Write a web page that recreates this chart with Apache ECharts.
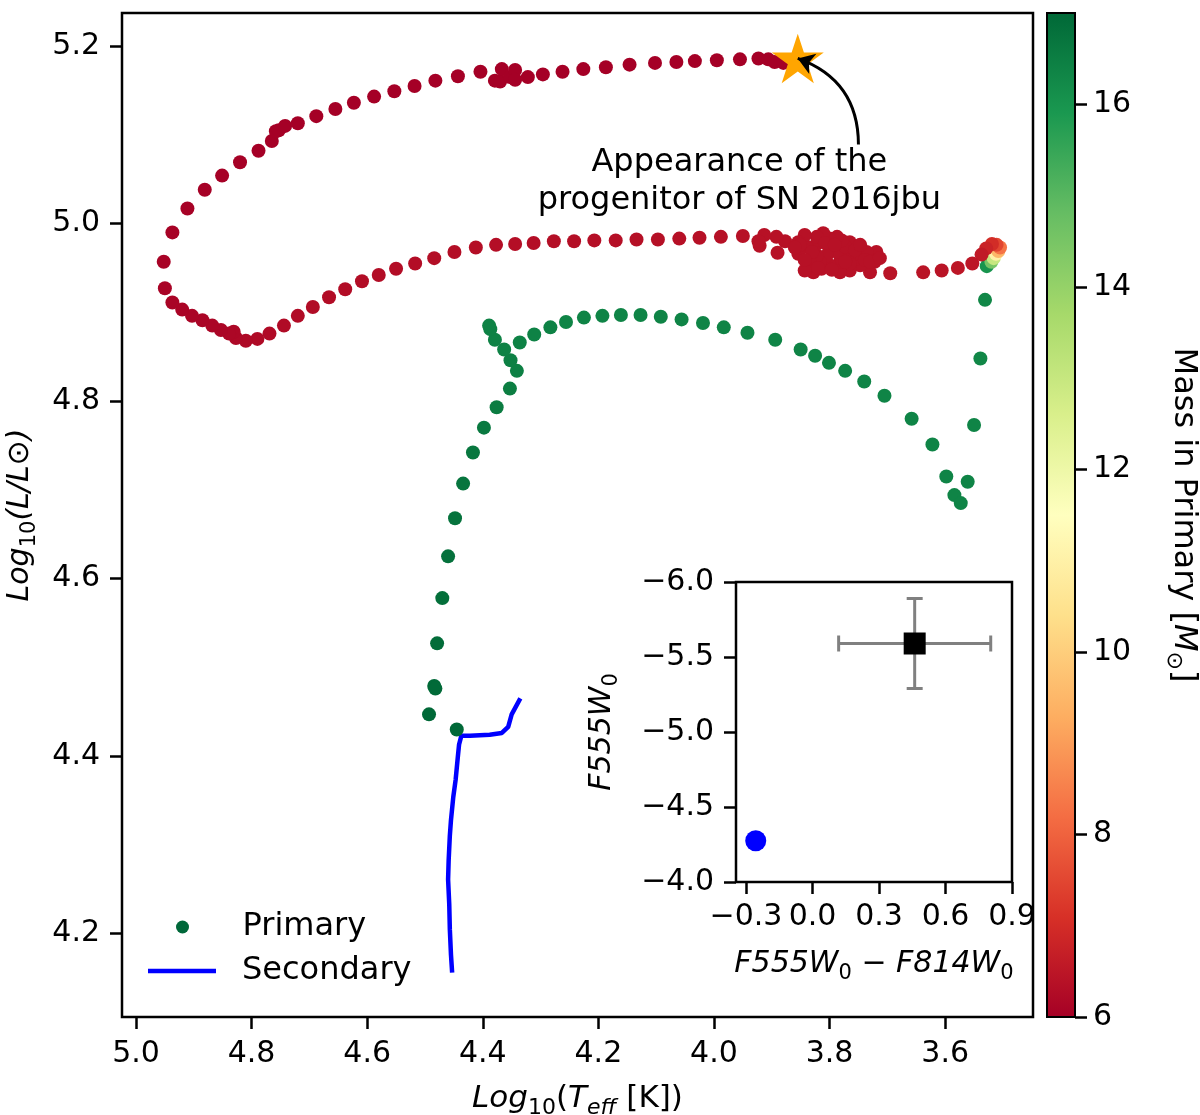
<!DOCTYPE html>
<html>
<head>
<meta charset="utf-8">
<script src="https://cdn.jsdelivr.net/npm/echarts@6.0.0/dist/echarts.min.js"></script>
<style>
  html, body { margin: 0; padding: 0; background: #fff; }
  #main { width: 1200px; height: 1115px; }
</style>
</head>
<body>
<div id="main"></div>
<script>
// primary track (log Teff, log L, mass in primary), in time order
const primaryTeff = [
  4.445, 4.493, 4.484, 4.482, 4.479, 4.470, 4.460, 4.448, 4.434, 4.417, 4.398, 4.376, 4.353, 4.341,
  4.352, 4.363, 4.379, 4.387, 4.389, 4.336, 4.311, 4.283, 4.256, 4.225, 4.193, 4.161, 4.127, 4.092,
  4.056, 4.019, 3.983, 3.942, 3.894, 3.850, 3.825, 3.801, 3.773, 3.740, 3.705, 3.658, 3.622, 3.598,
  3.584, 3.573, 3.561, 3.550, 3.539, 3.531,
  3.528, 3.520, 3.516, 3.512, 3.508, 3.505, 3.511, 3.519, 3.529, 3.537, 3.553, 3.578, 3.606, 3.638, 3.695,
  3.722, 3.719, 3.736, 3.730, 3.747, 3.754, 3.754, 3.765, 3.765, 3.765, 3.770, 3.782, 3.782, 3.787,
  3.800, 3.800, 3.805, 3.814, 3.817, 3.822, 3.828, 3.834, 3.843, 3.825, 3.773, 3.779, 3.787, 3.800,
  3.811, 3.822, 3.840, 3.843, 3.854, 3.854, 3.877, 3.890, 3.892, 3.913, 3.921, 3.923,
  3.851, 3.830, 3.808, 3.791, 3.773, 3.756, 3.739, 3.796, 3.820, 3.747, 3.843, 3.730, 3.713, 3.860,
  3.950, 3.988, 4.025, 4.060, 4.097, 4.134, 4.170, 4.207, 4.242, 4.277, 4.312, 4.344, 4.377, 4.412,
  4.449, 4.484, 4.517, 4.550, 4.580, 4.609, 4.638, 4.666, 4.694, 4.720, 4.744, 4.769, 4.790, 4.810,
  4.827, 4.831, 4.839, 4.853, 4.868, 4.885, 4.903, 4.920, 4.937, 4.950, 4.952, 4.937,
  4.911, 4.881, 4.851, 4.820, 4.788, 4.765, 4.758, 4.753, 4.742, 4.720, 4.688, 4.655, 4.623, 4.588,
  4.553, 4.518, 4.482, 4.443, 4.404, 4.379, 4.370, 4.367, 4.353, 4.344, 4.344, 4.322, 4.296, 4.262,
  4.226, 4.187, 4.146, 4.102, 4.065, 4.033, 3.995, 3.955, 3.923, 3.906, 3.895, 3.880
];
const primaryLum = [
  4.430, 4.447, 4.479, 4.476, 4.527, 4.578, 4.625, 4.668, 4.707, 4.742, 4.770, 4.793, 4.814, 4.834,
  4.846, 4.858, 4.869, 4.881, 4.885, 4.866, 4.875, 4.883, 4.889, 4.894, 4.896, 4.897, 4.897, 4.895,
  4.892, 4.888, 4.883, 4.877, 4.869, 4.858, 4.851, 4.843, 4.834, 4.822, 4.806, 4.780, 4.751, 4.715,
  4.694, 4.685, 4.709, 4.773, 4.848, 4.914,
  4.952, 4.957, 4.961, 4.966, 4.969, 4.973, 4.976, 4.977, 4.972, 4.965, 4.955, 4.950, 4.947, 4.945, 4.944,
  4.957, 4.968, 4.968, 4.945, 4.953, 4.960, 4.974, 4.947, 4.955, 4.979, 4.964, 4.945, 4.957, 4.968,
  4.953, 4.973, 4.964, 4.949, 4.957, 4.964, 4.945, 4.957, 4.947, 4.975, 4.974, 4.981, 4.985, 4.983,
  4.989, 4.985, 4.974, 4.987, 4.979, 4.966, 4.980, 4.967, 4.985, 4.987, 4.975, 4.980,
  4.976, 4.968, 4.978, 4.976, 4.957, 4.970, 4.959, 4.948, 4.950, 4.976, 4.959, 4.957, 4.961, 4.973,
  4.986, 4.985, 4.984, 4.983, 4.982, 4.982, 4.981, 4.981, 4.980, 4.980, 4.978, 4.977, 4.976, 4.973,
  4.968, 4.961, 4.955, 4.949, 4.942, 4.935, 4.926, 4.917, 4.906, 4.896, 4.885, 4.876, 4.870, 4.868,
  4.871, 4.878, 4.876, 4.880, 4.885, 4.891, 4.896, 4.903, 4.911, 4.927, 4.957, 4.990,
  5.017, 5.038, 5.054, 5.069, 5.082, 5.093, 5.104, 5.105, 5.110, 5.113, 5.121, 5.129, 5.136, 5.143,
  5.149, 5.155, 5.161, 5.166, 5.171, 5.161, 5.160, 5.174, 5.165, 5.173, 5.162, 5.165, 5.168, 5.171,
  5.174, 5.176, 5.179, 5.181, 5.182, 5.183, 5.184, 5.185, 5.186, 5.185, 5.182, 5.181
];
const primaryMass = [
  17.0, 17.0, 16.95, 16.95, 16.9, 16.85, 16.8, 16.75, 16.7, 16.65, 16.6, 16.55, 16.5, 16.45,
  16.45, 16.4, 16.4, 16.4, 16.4, 16.4, 16.4, 16.4, 16.35, 16.35, 16.35, 16.35, 16.35, 16.35,
  16.35, 16.35, 16.35, 16.35, 16.35, 16.35, 16.35, 16.35, 16.35, 16.35, 16.35, 16.35, 16.35, 16.35,
  16.35, 16.35, 16.35, 16.35, 16.3, 16.3,
  16.0, 14.5, 13.0, 11.0, 9.5, 8.3, 7.5, 7.0, 6.8, 6.6, 6.5, 6.5, 6.45, 6.45, 6.45,
  6.4, 6.4, 6.4, 6.4, 6.4, 6.4, 6.4, 6.4, 6.4, 6.4, 6.4, 6.4, 6.4, 6.4,
  6.4, 6.4, 6.4, 6.4, 6.4, 6.4, 6.4, 6.4, 6.4, 6.4, 6.4, 6.4, 6.4, 6.4,
  6.4, 6.4, 6.4, 6.4, 6.4, 6.4, 6.4, 6.4, 6.4, 6.4, 6.4, 6.4,
  6.4, 6.4, 6.4, 6.4, 6.4, 6.4, 6.4, 6.4, 6.4, 6.4, 6.4, 6.4, 6.4, 6.4,
  6.38, 6.38, 6.37, 6.37, 6.36, 6.36, 6.35, 6.35, 6.34, 6.34, 6.33, 6.33, 6.32, 6.32,
  6.31, 6.31, 6.3, 6.3, 6.29, 6.29, 6.28, 6.28, 6.27, 6.26, 6.25, 6.24, 6.22, 6.2,
  6.18, 6.16, 6.15, 6.14, 6.13, 6.12, 6.11, 6.1, 6.09, 6.08, 6.06, 6.05,
  6.04, 6.03, 6.02, 6.02, 6.01, 6.01, 6.0, 6.0, 6.0, 6.0, 6.0, 6.0, 6.0, 6.0,
  6.0, 6.0, 6.0, 6.0, 6.0, 6.0, 6.0, 6.0, 6.0, 6.0, 6.0, 6.0, 6.0, 6.0,
  6.0, 6.0, 6.0, 6.0, 6.0, 6.0, 6.0, 6.0, 6.0, 6.0, 6.0, 6.0
];
// secondary track
const secondaryTeff = [4.453, 4.455, 4.457, 4.458, 4.460, 4.459, 4.457, 4.455, 4.451, 4.447, 4.443, 4.441, 4.437, 4.422, 4.388, 4.367, 4.356, 4.350, 4.335];
const secondaryLum  = [4.156, 4.176, 4.205, 4.233, 4.261, 4.283, 4.310, 4.328, 4.354, 4.373, 4.400, 4.413, 4.423, 4.423, 4.424, 4.426, 4.433, 4.447, 4.465];
// progenitor of SN 2016jbu and its note
const progenitor = [3.855, 5.186];
const arrowFrom = [3.750, 5.089];
const noteAt = [3.956, 5.047];

const xTicks = [5.0, 4.8, 4.6, 4.4, 4.2, 4.0, 3.8, 3.6];
const yTicks = [4.2, 4.4, 4.6, 4.8, 5.0, 5.2];
const massTicks = [6, 8, 10, 12, 14, 16];

// inset: observed colour / magnitude vs model secondary
const obsColour = [0.461];
const obsMag = [-5.59];
const obsColourErr = [0.343];
const obsMagErr = [0.30];
const secColour = [-0.256];
const secMag = [-4.275];
const insetXTicks = [-0.3, 0.0, 0.3, 0.6, 0.9];
const insetYTicks = [-6.0, -5.5, -5.0, -4.5, -4.0];

const RdYlGn = ['#a50026', '#d73027', '#f46d43', '#fdae61', '#fee08b', '#ffffbf',
  '#d9ef8b', '#a6d96a', '#66bd63', '#1a9850', '#006837'];

const FONT = 'DejaVu Sans';
const FS = 30;
function richFor(size) {
  var sub = Math.round(size * 0.7);
  return {
    n: { fontFamily: FONT, fontSize: size, color: '#000', lineHeight: 40 },
    i: { fontFamily: FONT, fontSize: size, color: '#000', fontStyle: 'italic', lineHeight: 40 },
    s: { fontFamily: FONT, fontSize: sub, color: '#000', lineHeight: sub, verticalAlign: 'bottom' },
    si: { fontFamily: FONT, fontSize: sub, color: '#000', fontStyle: 'italic', lineHeight: sub, verticalAlign: 'bottom' }
  };
}
const starPath = 'path://M50,0 L61.23,34.55 L97.55,34.55 L68.17,55.9 L79.39,90.45 L50,69.1 L20.61,90.45 L31.83,55.9 L2.45,34.55 L38.77,34.55 Z';

function fmt1(v) {
  var s = Math.abs(v).toFixed(1);
  return v < -1e-9 ? '\u2212' + s : s;
}
function zip() {
  var cols = arguments, out = [];
  for (var k = 0; k < cols[0].length; k++) {
    var row = [];
    for (var c = 0; c < cols.length; c++) row.push(cols[c][k]);
    out.push(row);
  }
  return out;
}
function legendText() {
  return {
    color: '#000', fontFamily: FONT, fontSize: 32,
    rich: {
      sp: { width: 21, fontSize: 32 },
      t: { color: '#000', fontFamily: FONT, fontSize: 32 }
    }
  };
}
function legendLabel(n) { return '{sp|}{t|' + n + '}'; }

var tickStyle = { show: true, inside: false, length: 12, lineStyle: { color: '#000', width: 2.5 } };
var labelStyle = { color: '#000', fontFamily: FONT, fontSize: FS, hideOverlap: false };
var noLine = { show: false, onZero: false };

const chart = echarts.init(document.getElementById('main'));

var option = {
  backgroundColor: '#fff',
  animation: false,
  grid: [
    { left: 122, top: 13, width: 911, height: 1004, show: true, borderColor: '#000', borderWidth: 2.5, backgroundColor: 'transparent', outerBoundsMode: 'none' },
    { left: 1047, top: 13, width: 28, height: 1004, show: false, outerBoundsMode: 'none' },
    { left: 736, top: 582, width: 276, height: 300, show: true, borderColor: '#000', borderWidth: 2.5, backgroundColor: '#fff', outerBoundsMode: 'none' }
  ],
  xAxis: [
    {
      gridIndex: 0, type: 'value', inverse: true, min: 3.448, max: 5.0242,
      axisLine: noLine, splitLine: { show: false },
      axisTick: Object.assign({ customValues: xTicks }, tickStyle),
      axisLabel: Object.assign({ customValues: xTicks, margin: 22, formatter: fmt1 }, labelStyle),
      name: '{i|Log}{s|10}{n|(}{i|T}{si|eff}{n| [K])}',
      nameLocation: 'middle', nameGap: 62,
      nameTextStyle: { rich: richFor(31) }
    },
    { gridIndex: 1, type: 'value', min: 0, max: 1, show: false },
    {
      gridIndex: 2, type: 'value', min: -0.345, max: 0.9,
      axisLine: noLine, splitLine: { show: false },
      axisTick: Object.assign({ customValues: insetXTicks }, tickStyle),
      axisLabel: Object.assign({ customValues: insetXTicks, margin: 20, formatter: fmt1 }, labelStyle),
      name: '{i|F555W}{s|0}{n| \u2212 }{i|F814W}{s|0}',
      nameLocation: 'middle', nameGap: 62,
      nameTextStyle: { rich: richFor(30) }
    }
  ],
  yAxis: [
    {
      gridIndex: 0, type: 'value', min: 4.106, max: 5.2372,
      axisLine: noLine, splitLine: { show: false },
      axisTick: Object.assign({ customValues: yTicks }, tickStyle),
      axisLabel: Object.assign({ customValues: yTicks, margin: 22, formatter: fmt1 }, labelStyle),
      name: '{i|Log}{s|10}{i|(L/L}{n|\u2299}{i|)}',
      nameLocation: 'middle', nameGap: 82, nameRotate: 90,
      nameTextStyle: { rich: richFor(30) }
    },
    {
      gridIndex: 1, type: 'value', position: 'right', min: 6, max: 17,
      axisLine: noLine, splitLine: { show: false },
      axisTick: Object.assign({ customValues: massTicks }, tickStyle),
      axisLabel: Object.assign({ customValues: massTicks, margin: 18 }, labelStyle),
      name: '{n|Mass in Primary [}{i|M}{s|\u2299}{n|]}',
      nameLocation: 'middle', nameGap: 88, nameRotate: -90,
      nameTextStyle: { rich: richFor(32) }
    },
    {
      gridIndex: 2, type: 'value', inverse: true, min: -6, max: -4,
      axisLine: noLine, splitLine: { show: false },
      axisTick: Object.assign({ customValues: insetYTicks }, tickStyle),
      axisLabel: Object.assign({ customValues: insetYTicks, margin: 22, formatter: fmt1 }, labelStyle),
      name: '{i|F555W}{s|0}',
      nameLocation: 'middle', nameGap: 114, nameRotate: 90,
      nameTextStyle: { rich: richFor(30) }
    }
  ],
  visualMap: {
    type: 'continuous', show: false, min: 6, max: 17, dimension: 2, seriesIndex: 0,
    inRange: { color: RdYlGn }
  },
  legend: [
    {
      data: [{ name: 'Primary', icon: 'circle', itemStyle: { color: '#00683a', opacity: 1 } }],
      left: 176, top: 911, padding: 0, itemWidth: 68, itemHeight: 13,
      selectedMode: false, formatter: legendLabel,
      textStyle: legendText()
    },
    {
      data: [{ name: 'Secondary', icon: 'rect', itemStyle: { color: '#0000ff', opacity: 1 } }],
      left: 148, top: 955, padding: 0, itemWidth: 68, itemHeight: 4.5,
      selectedMode: false, formatter: legendLabel,
      textStyle: legendText()
    }
  ],
  series: [
    {
      name: 'Primary', type: 'scatter', xAxisIndex: 0, yAxisIndex: 0,
      symbolSize: 14, data: zip(primaryTeff, primaryLum, primaryMass),
      itemStyle: { opacity: 1 }, z: 3
    },
    {
      name: 'Secondary', type: 'line', xAxisIndex: 0, yAxisIndex: 0,
      data: zip(secondaryTeff, secondaryLum), showSymbol: false, smooth: false,
      lineStyle: { color: '#0000ff', width: 4.5 }, itemStyle: { color: '#0000ff' }, z: 3
    },
    {
      name: 'progenitor', type: 'scatter', xAxisIndex: 0, yAxisIndex: 0,
      symbol: starPath, symbolSize: 52, symbolKeepAspect: true,
      itemStyle: { color: '#ffa500', opacity: 1 }, data: [progenitor], z: 5
    },
    {
      name: 'arrow', type: 'lines', coordinateSystem: 'cartesian2d', xAxisIndex: 0, yAxisIndex: 0,
      symbol: ['none', 'arrow'], symbolSize: 16,
      lineStyle: { color: '#000', width: 3, curveness: -0.35, opacity: 1 },
      data: [{ coords: [arrowFrom, progenitor] }], z: 6, silent: true
    },
    {
      name: 'note', type: 'scatter', xAxisIndex: 0, yAxisIndex: 0,
      symbolSize: 0, data: [noteAt], silent: true, itemStyle: { opacity: 1 },
      label: {
        show: true, position: [0, 0], align: 'center', verticalAlign: 'middle',
        formatter: 'Appearance of the\nprogenitor of SN 2016jbu',
        color: '#000', fontFamily: FONT, fontSize: 32, lineHeight: 38
      }
    },
    {
      name: 'colorbar', type: 'custom', xAxisIndex: 1, yAxisIndex: 1,
      data: [[0, 6, 17]], silent: true,
      renderItem: function (params, api) {
        var lo = api.coord([0, api.value(1)]);
        var hi = api.coord([1, api.value(2)]);
        return {
          type: 'rect',
          shape: { x: lo[0], y: hi[1], width: hi[0] - lo[0], height: lo[1] - hi[1] },
          style: {
            fill: {
              type: 'linear', x: 0, y: 1, x2: 0, y2: 0,
              colorStops: RdYlGn.map(function (c, i) { return { offset: i / 10, color: c }; })
            },
            stroke: '#000', lineWidth: 2
          }
        };
      }
    },
    {
      name: 'obs errors', type: 'custom', xAxisIndex: 2, yAxisIndex: 2,
      data: zip(obsColour, obsMag, obsColourErr, obsMagErr), silent: true, z: 3,
      renderItem: function (params, api) {
        var x = api.value(0), y = api.value(1), ex = api.value(2), ey = api.value(3);
        var l = api.coord([x - ex, y]), r = api.coord([x + ex, y]);
        var t = api.coord([x, y - ey]), b = api.coord([x, y + ey]);
        var cap = 8, st = { stroke: '#808080', lineWidth: 3 };
        return {
          type: 'group',
          children: [
            { type: 'line', shape: { x1: l[0], y1: l[1], x2: r[0], y2: r[1] }, style: st },
            { type: 'line', shape: { x1: t[0], y1: t[1], x2: b[0], y2: b[1] }, style: st },
            { type: 'line', shape: { x1: l[0], y1: l[1] - cap, x2: l[0], y2: l[1] + cap }, style: st },
            { type: 'line', shape: { x1: r[0], y1: r[1] - cap, x2: r[0], y2: r[1] + cap }, style: st },
            { type: 'line', shape: { x1: t[0] - cap, y1: t[1], x2: t[0] + cap, y2: t[1] }, style: st },
            { type: 'line', shape: { x1: b[0] - cap, y1: b[1], x2: b[0] + cap, y2: b[1] }, style: st }
          ]
        };
      }
    },
    {
      name: 'observed', type: 'scatter', xAxisIndex: 2, yAxisIndex: 2,
      symbol: 'rect', symbolSize: 22, itemStyle: { color: '#000', opacity: 1 },
      data: zip(obsColour, obsMag), z: 4
    },
    {
      name: 'model secondary', type: 'scatter', xAxisIndex: 2, yAxisIndex: 2,
      symbolSize: 21, itemStyle: { color: '#0000ff', opacity: 1 },
      data: zip(secColour, secMag), z: 4
    }
  ]
};

chart.setOption(option);
</script>
</body>
</html>
